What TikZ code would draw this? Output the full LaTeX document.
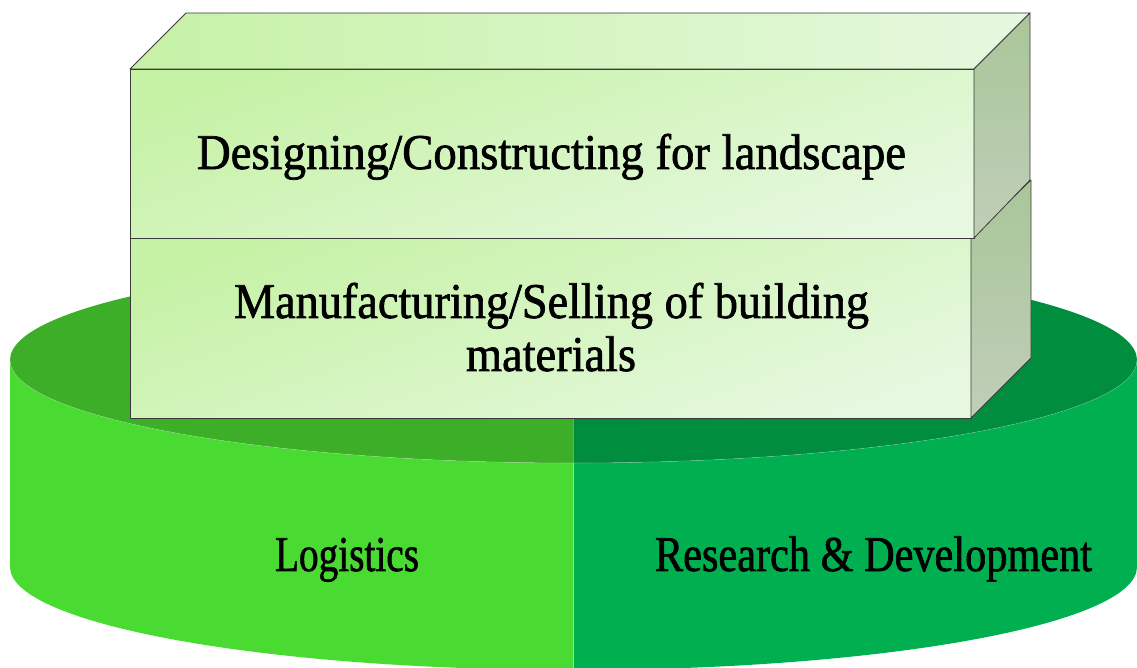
\documentclass[tikz,border=0pt]{standalone}
\usepackage{fontspec}
\setmainfont{Liberation Serif}
\newfontfamily\lblfont{Liberation Serif}[FakeBold=1.4]
\usepackage{graphicx}
\newcommand\fitw[2]{\resizebox{#1}{\height}{\lblfont\fontsize{50}{56}\selectfont #2}}
\definecolor{cylL}{HTML}{4ADB33}
\definecolor{cylR}{HTML}{00AF4F}
\definecolor{topL}{HTML}{3DAE28}
\definecolor{topR}{HTML}{008D3E}
\definecolor{frontA}{HTML}{C6F2A6}
\definecolor{frontB}{HTML}{E6F8DF}
\definecolor{sideA}{HTML}{A9C698}
\definecolor{sideB}{HTML}{C0CEB9}
\definecolor{edge}{HTML}{3A3A3A}
\begin{document}
\begin{tikzpicture}[x=1pt,y=1pt,
  boxface/.style={draw=edge,line width=0.8pt,line join=round},
  lbl/.style={inner sep=0pt,anchor=base,text=black}]
\useasboundingbox (0,0) rectangle (1137,668);
% cylinder sides
\fill[cylL] (10,308) -- (10,101) arc[start angle=180,end angle=270,x radius=563.5,y radius=103]
  -- (573.5,205) arc[start angle=270,end angle=180,x radius=563.5,y radius=103] -- cycle;
\fill[cylR] (573.5,205) -- (573.5,-2) arc[start angle=270,end angle=360,x radius=563.5,y radius=103]
  -- (1137,308) arc[start angle=0,end angle=-90,x radius=563.5,y radius=103] -- cycle;
% cylinder top
\fill[topL] (10,308) arc[start angle=180,end angle=270,x radius=563.5,y radius=103]
  -- (573.5,411) arc[start angle=90,end angle=180,x radius=563.5,y radius=103] -- cycle;
\fill[topR] (573.5,205) arc[start angle=270,end angle=360,x radius=563.5,y radius=103]
  arc[start angle=0,end angle=90,x radius=563.5,y radius=103] -- cycle;
\draw[white,opacity=0.35,line width=0.6pt] (573.5,-2) -- (573.5,205);
\draw[white,opacity=0.25,line width=0.6pt] (10,308) arc[start angle=180,end angle=360,x radius=563.5,y radius=103];
% lower box
\shade[top color=frontA,bottom color=frontB,shading angle=20] (130,250) rectangle (971,430);
\draw[boxface] (130,250) rectangle (971,430);
\shade[top color=sideA,bottom color=sideB] (971,250) -- (1031,310) -- (1031,488) -- (971,430) -- cycle;
\draw[boxface] (971,250) -- (1031,310) -- (1031,488) -- (971,430) -- cycle;
% upper box
\shade[top color=frontA,bottom color=frontB,shading angle=20] (130,430) rectangle (974,599);
\draw[boxface] (130,430) rectangle (974,599);
\shade[left color=frontA,right color=frontB] (130,599) -- (186,655) -- (1030,655) -- (974,599) -- cycle;
\draw[boxface] (130,599) -- (186,655) -- (1030,655) -- (974,599) -- cycle;
\shade[top color=sideA,bottom color=sideB] (974,430) -- (974,599) -- (1030,655) -- (1030,488) -- cycle;
\draw[boxface] (974,430) -- (974,599) -- (1030,655) -- (1030,488) -- cycle;
% texts
\node[lbl] (design) at (551.5,499) {\fitw{709pt}{Designing/Constructing for landscape}};
\node[lbl] (manuf) at (551.5,350) {\fitw{635pt}{Manufacturing/Selling of building}};
\node[lbl] (mater) at (551,297) {\fitw{170pt}{materials}};
\node[lbl] (logi) at (347,97) {\fitw{144pt}{Logistics}};
\node[lbl] (rnd) at (873.5,97) {\fitw{437pt}{Research \& Development}};
\end{tikzpicture}
\end{document}
